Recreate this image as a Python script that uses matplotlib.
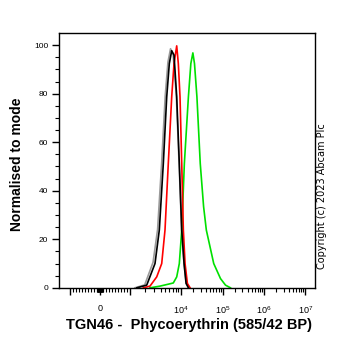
import numpy as np
import matplotlib
matplotlib.use("Agg")
import matplotlib.pyplot as plt

plt.rcParams["font.family"] = ["Liberation Sans", "DejaVu Sans"]
plt.rcParams["mathtext.fontset"] = "custom"
plt.rcParams["mathtext.rm"] = "Liberation Sans"
plt.rcParams["mathtext.it"] = "Liberation Sans"
plt.rcParams["mathtext.default"] = "regular"

# histogram traces (fluorescence value, % of mode)
black_x = [1360, 2135, 3112, 3784, 4538, 5297, 5959, 6644, 7379, 8337, 9383,
           10571, 12010, 13420, 15240]
black_y = [0, 1.1, 10, 23.8, 51.2, 78.7, 92.4, 97.7, 95.9, 78.7, 51.2, 23.8,
           10, 1.8, 0]
grey_x = [1250, 1950, 2850, 3500, 4200, 4950, 5600, 6300, 7100, 8200, 9300,
          10500, 12000, 13500, 15500]
grey_y = [0, 1.2, 10.5, 24, 51, 79, 93, 98.5, 96, 79, 51, 24, 10, 2, 0]
red_x = [1829, 2479, 3363, 4220, 4900, 5691, 6644, 7379, 8337, 8970, 9687,
         10571, 11550, 12690, 14420, 16750]
red_y = [0, 0.7, 4.5, 10, 23.8, 51.2, 78.7, 92.4, 99.7, 92.4, 78.7, 51.2,
         23.8, 10, 1.8, 0]
green_x = [2479, 3906, 5691, 7145, 8337, 9383, 10571, 12210, 15240, 17420,
           19460, 21270, 24300, 29170, 35060, 40700, 61060, 88520, 116800,
           154200]
green_y = [0, 0.7, 1.5, 2, 4.5, 10, 23.8, 51.2, 78.7, 92.4, 96.8, 92.4, 78.7,
           51.2, 33.4, 23.8, 10, 3.8, 1.1, 0]

major_ticks = [-1e3, 0, 1e3, 1e4, 1e5, 1e6, 1e7]
major_labels = ["", "0", "", "$10^4$", "$10^5$", "$10^6$", "$10^7$"]

# logicle-like axis: linear in [-1000, 1000], log beyond
G_ANCH = np.array([-2, -1, 0, 1, 2, 3, 4, 5, 6], dtype=float)
P_ANCH = np.array([28.5, 70, 100, 130, 180.7, 222.7, 264, 305.3, 346.8])


def fwd(x):
    x = np.asarray(x, dtype=float)
    ax_ = np.abs(x)
    with np.errstate(divide="ignore", invalid="ignore"):
        lg = np.sign(x) * (1 + np.log10(np.maximum(ax_, 1e-300) / 1000))
    g = np.where(ax_ <= 1000, x / 1000, lg)
    return np.interp(g, G_ANCH, P_ANCH)


def inv(u):
    g = np.interp(np.asarray(u, dtype=float), P_ANCH, G_ANCH)
    ag = np.abs(g)
    return np.where(ag <= 1, g * 1000, np.sign(g) * 1000 * 10 ** (ag - 1))


minor = []
for k in range(1, 10):
    minor += [-k * 100, -k * 10, k * 10, k * 100]
for d in range(3, 7):
    minor += [k * 10 ** d for k in range(2, 10)]

fig = plt.figure(figsize=(3.62, 3.51), dpi=100)
ax = fig.add_axes([0.164, 0.180, 0.706, 0.726])
ax.set_xscale("function", functions=(fwd, inv))

lw = 1.2
ax.plot(grey_x, grey_y, color="#9a9a9a", lw=lw)
ax.plot(green_x, green_y, color="#00e000", lw=lw)
ax.plot(red_x, red_y, color="#ff0000", lw=lw)
ax.plot(black_x, black_y, color="#000000", lw=lw)

ax.set_xlim(-1800, 1.7e7)
ax.set_ylim(0, 105)

ax.set_xticks(major_ticks)
ax.set_xticklabels(major_labels)
ax.set_xticks(minor, minor=True)
ax.set_yticks([0, 20, 40, 60, 80, 100])
ax.set_yticks(np.arange(5, 105, 5), minor=True)

for s in ax.spines.values():
    s.set_linewidth(1.0)
ax.tick_params(axis="both", which="major", direction="out", length=5,
               width=1.0, labelsize=6)
ax.tick_params(axis="x", which="major", labelsize=6.5, pad=7)
ax.tick_params(axis="both", which="minor", direction="out", length=3,
               width=0.8)
ax.tick_params(axis="y", which="major", pad=3)

fig.text(0.048, 0.533, "Normalised to mode", rotation=90, ha="center",
         va="center", fontsize=10, fontweight="bold")
fig.text(0.522, 0.074, "TGN46 -  Phycoerythrin (585/42 BP)", ha="center",
         va="center", fontsize=10.5, fontweight="bold")
fig.text(0.889, 0.442, "Copyright (c) 2023 Abcam Plc", rotation=90,
         ha="center", va="center", fontsize=7, family="DejaVu Sans")

fig.savefig("out.png", dpi=100)
